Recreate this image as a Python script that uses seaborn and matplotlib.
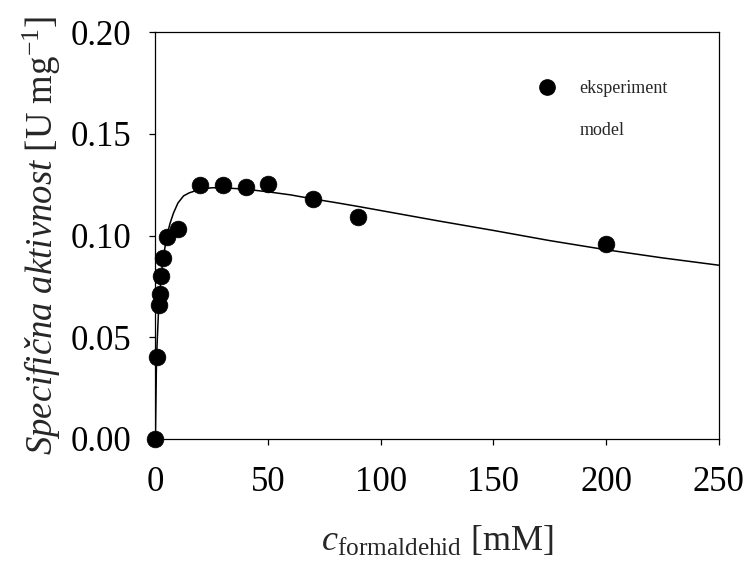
import matplotlib
matplotlib.use('Agg')
import matplotlib.pyplot as plt
import seaborn as sns
import pandas as pd
from matplotlib.lines import Line2D

# experimental points (formaldehyde conc. in mM, specific activity in U/mg)
c_exp = [0, 0.5, 1.5, 2, 2.5, 3.5, 5, 10, 20, 30, 40, 50, 70, 90, 200]
a_exp = [0.0, 0.040, 0.066, 0.071, 0.080, 0.089, 0.0995, 0.103,
         0.125, 0.125, 0.124, 0.1255, 0.118, 0.109, 0.096]

# model curve
c_mod = [0, 0.5, 1.5, 2, 2.5, 3.5, 5, 6.5, 8, 10, 12.5, 15, 20, 25, 30,
         40, 50, 60, 70, 80, 90, 100, 125, 150, 175, 200, 225, 250]
a_mod = [0.0, 0.040, 0.066, 0.071, 0.080, 0.089, 0.0995, 0.106, 0.111,
         0.116, 0.1195, 0.121, 0.1228, 0.1235, 0.1235, 0.1228, 0.1215,
         0.1200, 0.1180, 0.1162, 0.1143, 0.1123, 0.1073, 0.1025, 0.0975,
         0.0930, 0.0890, 0.0854]

df_exp = pd.DataFrame({'c': c_exp, 'a': a_exp})
df_mod = pd.DataFrame({'c': c_mod, 'a': a_mod})

sns.set_style('ticks')
plt.rcParams['font.family'] = ['Liberation Serif', 'DejaVu Serif']
plt.rcParams['mathtext.fontset'] = 'custom'
plt.rcParams['mathtext.rm'] = 'Liberation Serif'
plt.rcParams['mathtext.it'] = 'Liberation Serif:italic'

fig = plt.figure(figsize=(7.5, 5.65), dpi=100)
ax = fig.add_axes([0.2072, 0.2235, 0.7511, 0.7193])

sns.lineplot(data=df_mod, x='c', y='a', ax=ax, color='black', lw=1.1,
             estimator=None, sort=False)
sns.scatterplot(data=df_exp, x='c', y='a', ax=ax, color='black', s=145,
                edgecolor='black', linewidth=0.5, zorder=3, clip_on=False)

ax.set_xlim(0, 250)
ax.set_ylim(0, 0.20)
ax.set_xticks([0, 50, 100, 150, 200, 250])
ax.set_yticks([0, 0.05, 0.10, 0.15, 0.20])
ax.set_yticklabels(['0.00', '0.05', '0.10', '0.15', '0.20'])
ax.tick_params(direction='out', length=4.5, width=0.9, labelsize=25,
               colors='black')
ax.tick_params(axis='x', pad=15)
ax.tick_params(axis='y', pad=13)
for s in ax.spines.values():
    s.set_linewidth(0.9)
    s.set_color('black')

ax.set_xlabel(r'$c_{\mathrm{formaldehid}}$ [mM]', fontsize=26, labelpad=19)
ax.set_ylabel(r'$\mathit{Specifična\ aktivnost}$ [U mg$^{-1}$]',
              fontsize=26.5, labelpad=5)

handles = [Line2D([], [], marker='o', color='black', ls='none', markersize=11),
           Line2D([], [], color='none')]
ax.legend(handles, ['eksperiment', 'model'], loc='upper left',
          bbox_to_anchor=(0.717, 0.858), bbox_transform=fig.transFigure,
          frameon=False, fontsize=13, handlelength=1.0, handletextpad=1.3,
          labelspacing=1.35, borderpad=0, borderaxespad=0)

fig.savefig('out.png', dpi=100)
